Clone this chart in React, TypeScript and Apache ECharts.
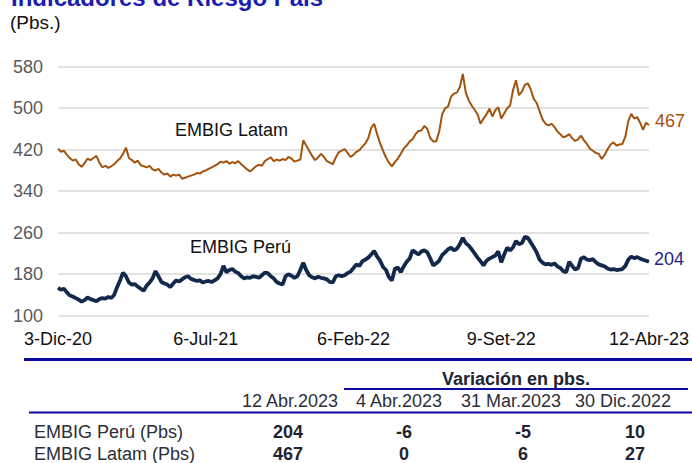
import React, { useEffect, useRef } from "react";
import * as echarts from "echarts";

const TICK_LABELS = ["3-Dic-20", "6-Jul-21", "6-Feb-22", "9-Set-22", "12-Abr-23"];

const LATAM = [
  422, 416, 418, 410, 404, 399, 401, 392, 387, 394,
  403, 400, 404, 408, 395, 386, 389, 385, 388, 392,
  398, 403, 412, 424, 404, 400, 395, 399, 390, 388,
  386, 389, 382, 380, 383, 376, 372, 374, 368, 372,
  370, 372, 364, 366, 368, 370, 372, 375, 374, 378,
  380, 383, 386, 389, 392, 397, 395, 398, 393, 396,
  394, 398, 392, 387, 382, 378, 383, 388, 391, 389,
  398, 402, 405, 398, 401, 399, 402, 400, 406, 403,
  397, 399, 401, 438, 428, 418, 408, 400, 405, 412,
  406, 398, 395, 392, 405, 415, 418, 421, 414, 406,
  410, 416, 419, 426, 432, 442, 462, 470, 450, 432,
  418, 405, 395, 388, 396, 403, 412, 422, 428, 436,
  440, 450, 456, 457, 466, 460, 442, 436, 436, 455,
  488, 500, 503, 522, 528, 530, 541, 566, 530, 515,
  505, 497, 488, 470, 480, 488, 499, 484, 496, 502,
  480, 490, 500, 505, 535, 554, 525, 532, 545, 548,
  536, 518, 510, 494, 478, 470, 467, 470, 464, 455,
  450, 444, 446, 450, 442, 437, 440, 447, 438, 431,
  422, 418, 414, 412, 402, 410, 421, 430, 434, 428,
  430, 431, 445, 475, 489, 480, 483, 472, 458, 472,
  467,
];

const PERU = [
  154, 150, 152, 145, 139, 137, 134, 131, 127, 130,
  135, 132, 130, 128, 132, 134, 133, 136, 134, 140,
  155, 168, 183, 176, 164, 160, 161, 156, 152, 148,
  158, 164, 172, 186, 176, 165, 162, 160, 155, 162,
  168, 166, 170, 174, 176, 171, 169, 167, 168, 164,
  166, 167, 165, 168, 172, 180, 196, 184, 188, 190,
  185, 182, 176, 172, 174, 173, 176, 175, 173, 178,
  183, 182, 176, 172, 165, 162, 160, 176, 180, 177,
  173, 176, 188, 202, 188, 178, 174, 172, 175, 173,
  172, 170, 165, 164, 176, 178, 176, 178, 182, 185,
  192, 199, 196, 205, 208, 212, 218, 225, 214, 206,
  194, 188, 174, 168, 190, 193, 184, 195, 204, 210,
  226, 222, 218, 224, 226, 222, 210, 197, 201, 206,
  217, 222, 228, 231, 226, 229, 238, 250, 240, 235,
  228, 220, 212, 205, 197, 206, 210, 213, 216, 224,
  203, 218, 231, 226, 232, 244, 238, 240, 252, 250,
  241, 232, 222, 208, 202, 199, 200, 198, 201, 195,
  192, 186, 184, 204, 196, 189, 192, 210, 213, 208,
  207, 209, 203, 199, 197, 195, 191, 189, 190, 188,
  189, 190, 196, 208, 214, 211, 213, 210, 208, 206,
  204,
];

const TABLE_HEADERS = ["12 Abr.2023", "4 Abr.2023", "31 Mar.2023", "30 Dic.2022"];
const TABLE_ROWS = ["EMBIG Perú (Pbs)", "EMBIG Latam (Pbs)"];
const TABLE_PERU = ["204", "-6", "-5", "10"];
const TABLE_LATAM = ["467", "0", "6", "27"];

const FONT = "Liberation Sans, Arial, sans-serif";
const LATAM_COLOR = "#A3530E";
const PERU_COLOR = "#13294B";
const BLUE = "#0A0A9E";

export default function App() {
  const ref = useRef<HTMLDivElement>(null);

  useEffect(() => {
    if (!ref.current) return;
    const chart = echarts.init(ref.current, undefined, { renderer: "svg" });
    const categories = LATAM.map((_, i) => String(i));
    const step = (categories.length - 1) / (TICK_LABELS.length - 1);

    const colX = [288, 404, 523, 635];
    const headerX = [290, 399, 511, 623];
    const txt = (x: number, y: number, text: string, opts: any = {}) => ({
      type: "text",
      silent: true,
      style: {
        x,
        y,
        text,
        fill: opts.fill || "#1F2433",
        font: `${opts.bold ? "bold " : ""}${opts.size || 18}px ${FONT}`,
        textAlign: opts.align || "left",
        textVerticalAlign: "middle",
      },
    });
    const hline = (x1: number, x2: number, y: number, w: number) => ({
      type: "line",
      silent: true,
      shape: { x1, y1: y, x2, y2: y },
      style: { stroke: BLUE, lineWidth: w },
    });

    const graphics: any[] = [
      txt(11, -2.5, "Indicadores de Riesgo País", { bold: true, size: 24, fill: "#1C1CB0" }),
      txt(10, 22, "(Pbs.)", { size: 19, fill: "#111111" }),
      txt(175, 130, "EMBIG Latam", { fill: "#111111" }),
      txt(190, 247, "EMBIG Perú", { fill: "#111111" }),
      hline(24, 692, 359.5, 3),
      txt(516, 379, "Variación en pbs.", { bold: true, align: "center" }),
      hline(344, 688, 389, 2),
      ...TABLE_HEADERS.map((h, i) => txt(headerX[i], 401, h, { align: "center", fill: "#2A2F3A" })),
      hline(29, 692, 412.5, 2),
      txt(34, 432, TABLE_ROWS[0], { fill: "#2A2F3A" }),
      txt(34, 454, TABLE_ROWS[1], { fill: "#2A2F3A" }),
      ...TABLE_PERU.map((v, i) => txt(colX[i], 432, v, { bold: true, align: "center" })),
      ...TABLE_LATAM.map((v, i) => txt(colX[i], 454, v, { bold: true, align: "center" })),
    ];

    chart.setOption({
      animation: false,
      grid: { left: 58, right: 40, top: 66.7, bottom: 147.3, containLabel: false },
      xAxis: {
        type: "category",
        data: categories,
        boundaryGap: false,
        axisLine: { show: false },
        axisTick: { show: false },
        splitLine: { show: false },
        axisLabel: {
          interval: (index: number) => index % step === 0,
          formatter: (_v: string, index: number) => TICK_LABELS[Math.round(index / step)] ?? "",
          color: "#111111",
          fontSize: 18,
          fontFamily: FONT,
          margin: 14,
          hideOverlap: false,
        },
      },
      yAxis: {
        type: "value",
        min: 100,
        max: 580,
        interval: 80,
        axisLine: { show: false },
        axisTick: { show: false },
        splitLine: { lineStyle: { color: "#D9D9D9", width: 1.5 } },
        axisLabel: { color: "#595959", fontSize: 18, fontFamily: FONT, margin: 15 },
      },
      series: [
        {
          name: "EMBIG Latam",
          type: "line",
          data: LATAM,
          showSymbol: false,
          lineStyle: { color: LATAM_COLOR, width: 2 },
          itemStyle: { color: LATAM_COLOR },
          endLabel: {
            show: true,
            formatter: "{c}",
            color: LATAM_COLOR,
            fontSize: 18,
            fontFamily: FONT,
            distance: 6,
            offset: [0, -4],
          },
        },
        {
          name: "EMBIG Perú",
          type: "line",
          data: PERU,
          showSymbol: false,
          lineStyle: { color: PERU_COLOR, width: 3.8 },
          itemStyle: { color: PERU_COLOR },
          endLabel: {
            show: true,
            formatter: "{c}",
            color: "#1F2390",
            fontSize: 18,
            fontFamily: FONT,
            distance: 5,
            offset: [0, -3],
          },
        },
      ],
      graphic: graphics,
    });

    return () => chart.dispose();
  }, []);

  return (
    <div
      ref={ref}
      style={{ position: "absolute", left: 0, top: 0, width: 692, height: 463, background: "#fff" }}
    />
  );
}
